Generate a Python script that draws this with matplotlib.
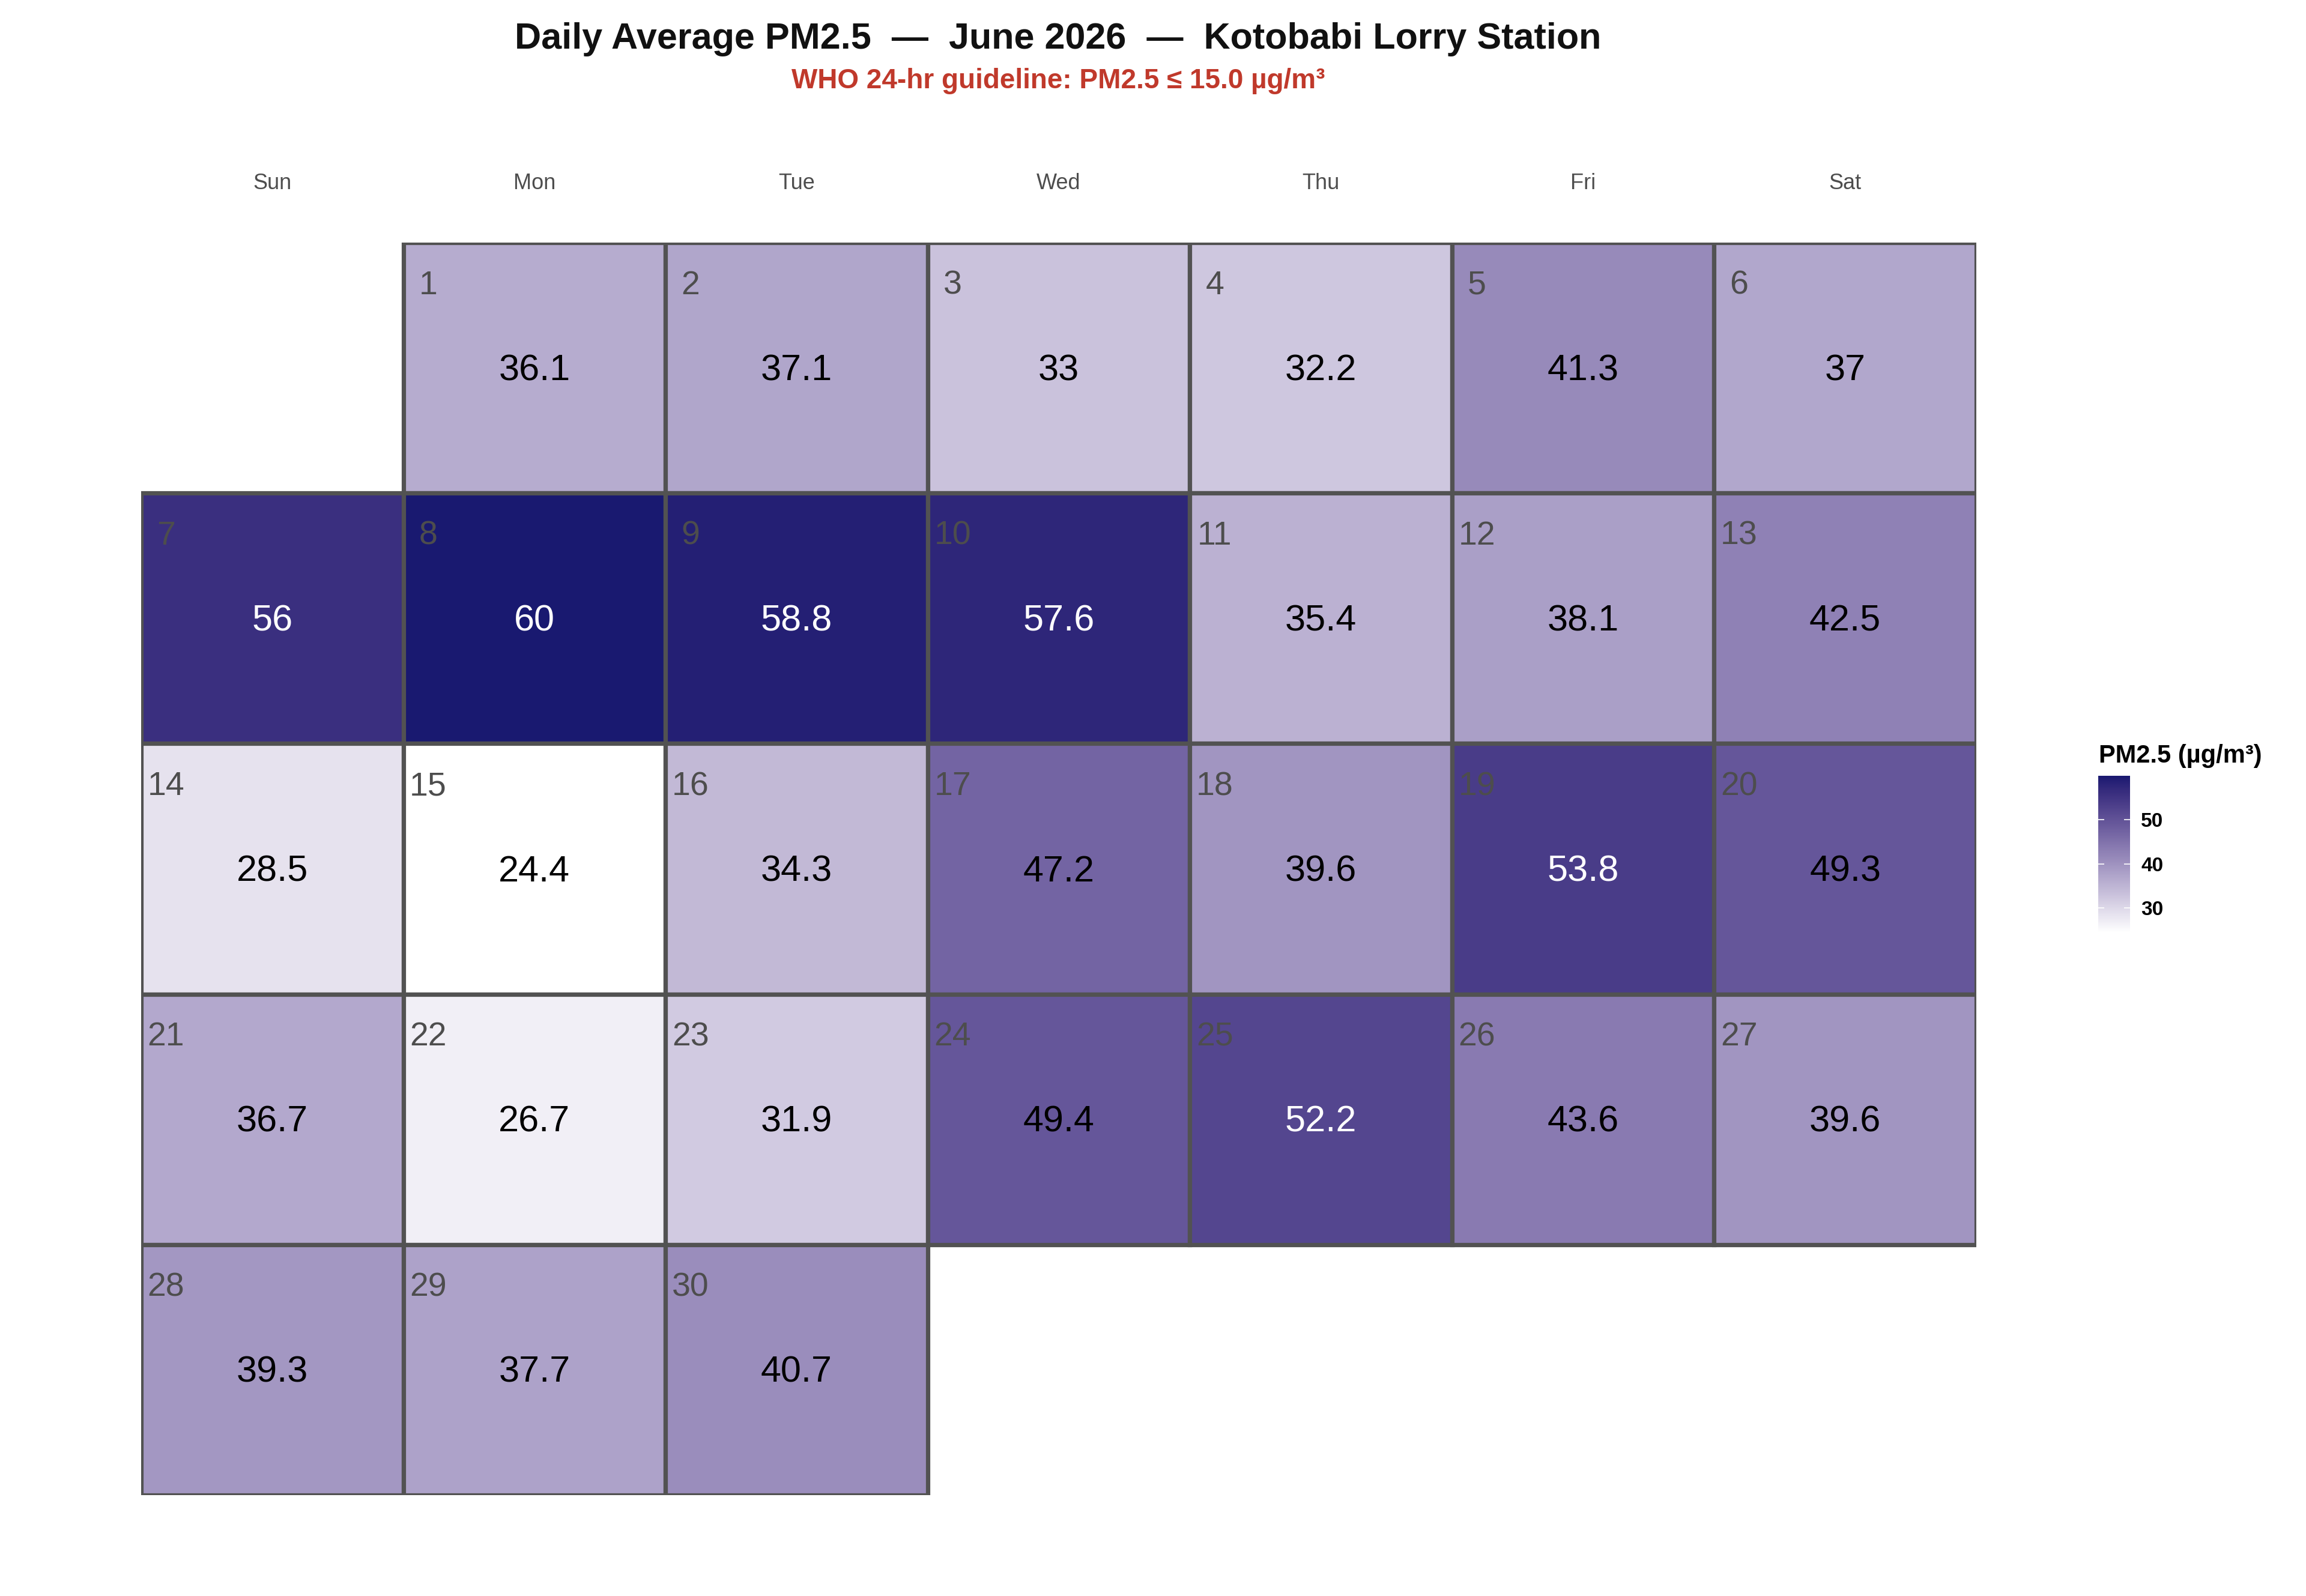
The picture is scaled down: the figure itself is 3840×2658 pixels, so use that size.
import datetime
import numpy as np
import matplotlib
matplotlib.use("Agg")
import matplotlib.pyplot as plt
from matplotlib.colors import ListedColormap, Normalize
from matplotlib.patches import Rectangle
from matplotlib.cm import ScalarMappable

plt.rcParams['font.family'] = ['Liberation Sans', 'DejaVu Sans']

# daily average PM2.5, June 2026
days = list(range(1, 31))
pm25 = [36.1, 37.1, 33, 32.2, 41.3, 37, 56, 60, 58.8, 57.6,
        35.4, 38.1, 42.5, 28.5, 24.4, 34.3, 47.2, 39.6, 53.8, 49.3,
        36.7, 26.7, 31.9, 49.4, 52.2, 43.6, 39.6, 39.3, 37.7, 40.7]
weekday_names = ['Sun', 'Mon', 'Tue', 'Wed', 'Thu', 'Fri', 'Sat']
cbar_ticks = [30, 40, 50]
year, month = 2026, 6


def srgb_to_lab(rgb):
    rgb = np.asarray(rgb, float)
    lin = np.where(rgb <= 0.04045, rgb / 12.92, ((rgb + 0.055) / 1.055) ** 2.4)
    m = np.array([[0.4124, 0.3576, 0.1805],
                  [0.2126, 0.7152, 0.0722],
                  [0.0193, 0.1192, 0.9505]])
    xyz = m @ lin / np.array([0.95047, 1.0, 1.08883])
    f = np.where(xyz > 0.008856, np.cbrt(xyz), 7.787 * xyz + 16 / 116)
    return np.array([116 * f[1] - 16, 500 * (f[0] - f[1]), 200 * (f[1] - f[2])])


def lab_to_srgb(lab):
    L, a, b = lab
    fy = (L + 16) / 116
    fx = fy + a / 500
    fz = fy - b / 200
    f = np.array([fx, fy, fz])
    xyz = np.where(f ** 3 > 0.008856, f ** 3, (f - 16 / 116) / 7.787)
    xyz = xyz * np.array([0.95047, 1.0, 1.08883])
    minv = np.array([[3.2406, -1.5372, -0.4986],
                     [-0.9689, 1.8758, 0.0415],
                     [0.0557, -0.2040, 1.0570]])
    lin = minv @ xyz
    rgb = np.where(lin <= 0.0031308, 12.92 * lin, 1.055 * np.clip(lin, 0, None) ** (1 / 2.4) - 0.055)
    return np.clip(rgb, 0, 1)


# white -> midnightblue, interpolated in Lab like ggplot's gradient
lab_lo = srgb_to_lab([1, 1, 1])
lab_hi = srgb_to_lab([25 / 255, 25 / 255, 112 / 255])
ramp = [lab_to_srgb(lab_lo + t * (lab_hi - lab_lo)) for t in np.linspace(0, 1, 256)]
cmap = ListedColormap(ramp)
norm = Normalize(vmin=min(pm25), vmax=max(pm25))

W, H = 3840, 2658
fig = plt.figure(figsize=(W / 200, H / 200), dpi=200)
ax = fig.add_axes([235 / W, 1 - 2490 / H, (3291 - 235) / W, (2490 - 404) / H])

first = datetime.date(year, month, 1)
offset = (first.weekday() + 1) % 7  # Sunday = 0
for d, v in zip(days, pm25):
    pos = offset + d - 1
    col, row = pos % 7, pos // 7
    ax.add_patch(Rectangle((col - 0.5, row - 0.5), 1, 1, facecolor=cmap(norm(v)),
                           edgecolor='#525252', linewidth=2.6))
    ax.text(col - 0.405, row - 0.328, str(d), ha='center', va='center',
            fontsize=20, color='#4d4d4d')
    ax.text(col, row + 0.012, f"{v:g}", ha='center', va='center', fontsize=22,
            color='white' if v > 50 else 'black')

for i, name in enumerate(weekday_names):
    ax.text(i, -0.735, name, ha='center', va='center', fontsize=13,
            color='#4d4d4d', clip_on=False)

ax.set_xlim(-0.5, 6.5)
ax.set_ylim(4.5, -0.5)
ax.set_axis_off()

fig.text(1762 / W, 1 - 66 / H,
         "Daily Average PM2.5  \u2014  June 2026  \u2014  Kotobabi Lorry Station",
         ha='center', va='center', fontsize=22, fontweight='bold', color='#111111')
fig.text(1762 / W, 1 - 135 / H, "WHO 24-hr guideline: PM2.5 \u2264 15.0 \u00b5g/m\u00b3",
         ha='center', va='center', fontsize=16.5, fontweight='bold', color='#c0392b')

# colour bar legend
cax = fig.add_axes([3494 / W, 1 - 1553 / H, 53 / W, 261 / H])
cb = fig.colorbar(ScalarMappable(norm=norm, cmap=cmap), cax=cax, ticks=cbar_ticks)
cb.outline.set_visible(False)
cax.yaxis.set_ticks_position('both')
cax.tick_params(axis='y', direction='in', color='white', length=3.6, width=0.6,
                labelcolor='black', labelsize=12, pad=6.5)
for lbl in cax.get_yticklabels():
    lbl.set_fontweight('bold')
fig.text(3495 / W, 1 - 1259 / H, "PM2.5 (\u00b5g/m\u00b3)", ha='left', va='center',
         fontsize=15, fontweight='bold', color='black')

fig.savefig("out.png", dpi=200)
